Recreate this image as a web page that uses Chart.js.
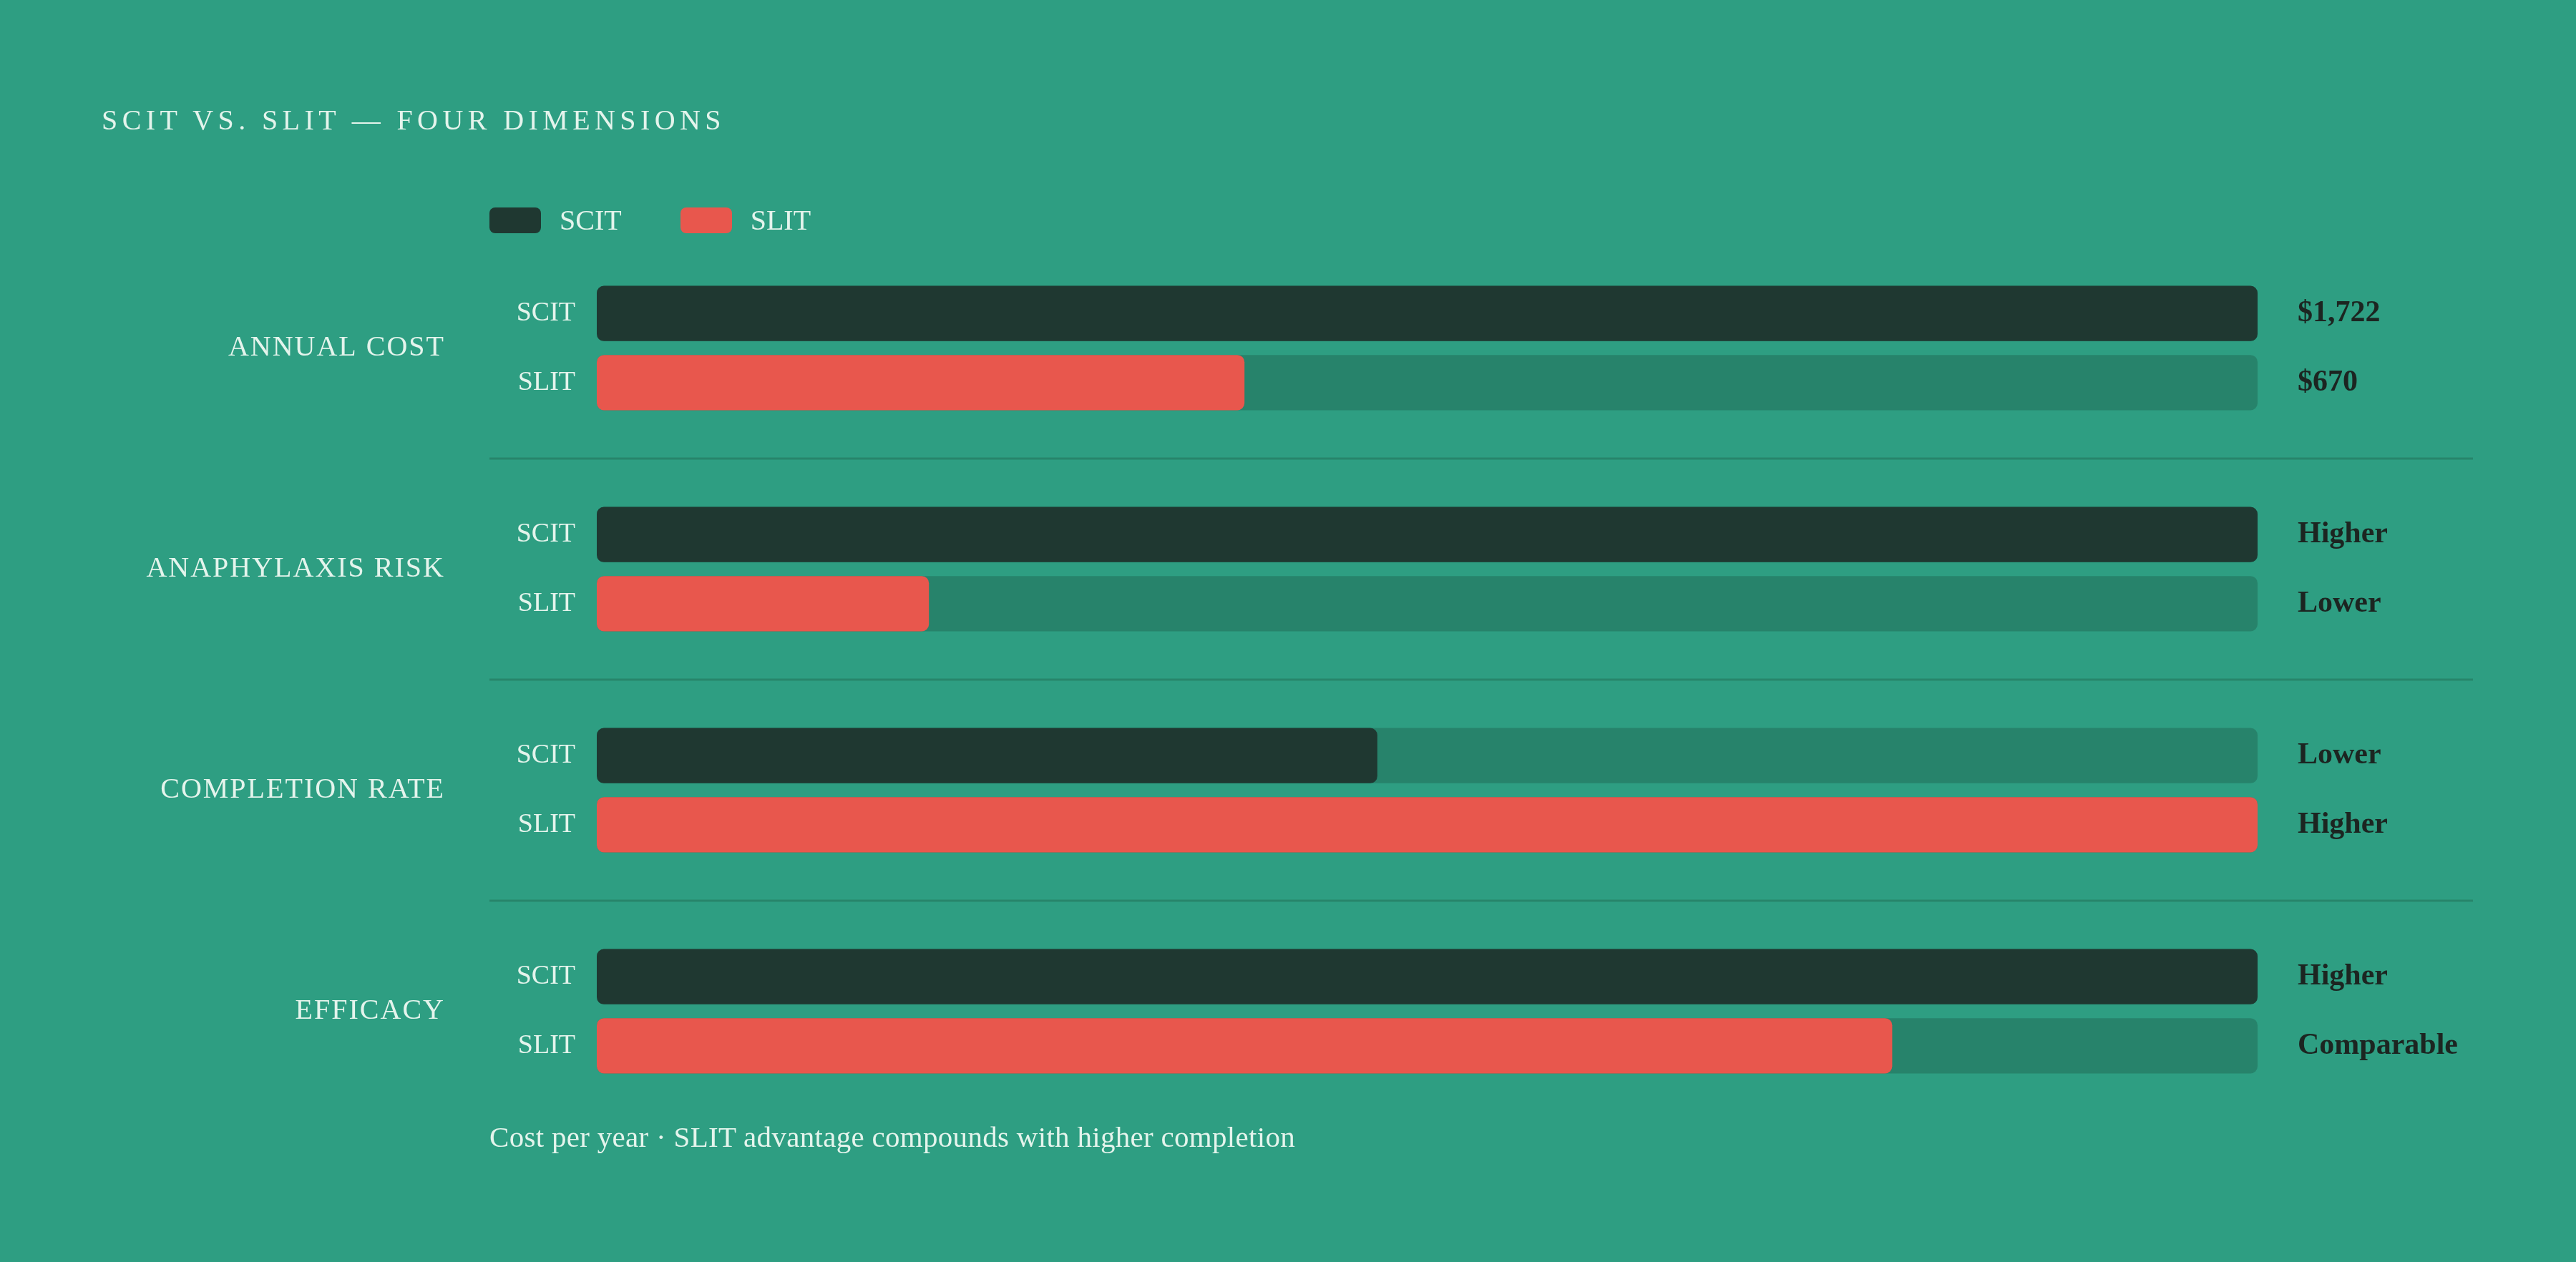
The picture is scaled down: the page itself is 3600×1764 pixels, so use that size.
<!DOCTYPE html>
<html>
<head>
<meta charset="utf-8">
<script src="https://cdn.jsdelivr.net/npm/chart.js@4"></script>
<style>
  html, body { margin: 0; padding: 0; background: #2e9e82; }
  #wrap { position: relative; width: 3600px; height: 1764px; overflow: hidden; }
  #chart-box { position: absolute; left: 0; top: 0; width: 3600px; height: 1764px; }
  .title { position: absolute; left: 142px; top: 144px; font-family: "Liberation Serif", serif;
           font-size: 40px; letter-spacing: 6.4px; color: #e4f4ec; white-space: nowrap; }
  .legend { position: absolute; left: 684px; top: 284px; display: flex; align-items: center;
            font-family: "Liberation Serif", serif; font-size: 40px; color: #e4f4ec; }
  .legend .sw { width: 72px; height: 36px; border-radius: 8px; margin-right: 26px; }
  .legend .item { display: flex; align-items: center; margin-right: 82px; }
  .footer { position: absolute; left: 684px; top: 1565px; font-family: "Liberation Serif", serif;
            font-size: 41px; letter-spacing: 0.3px; color: #e4f4ec; white-space: nowrap; }
</style>
</head>
<body>
<div id="wrap">
  <div id="chart-box"><canvas id="cmp-chart"></canvas></div>
  <div class="title">SCIT VS. SLIT — FOUR DIMENSIONS</div>
  <div class="legend">
    <div class="item"><div class="sw" style="background:#1f3831"></div>SCIT</div>
    <div class="item"><div class="sw" style="background:#e8574d"></div>SLIT</div>
  </div>
  <div class="footer">Cost per year · SLIT advantage compounds with higher completion</div>
</div>
<script>
// relative bar lengths (share of the larger one in each row)
const dimensions = ['ANNUAL COST', 'ANAPHYLAXIS RISK', 'COMPLETION RATE', 'EFFICACY'];
const scitScore = [100, 100, 47, 100];
const slitScore = [39, 20, 100, 78];
const trackScore = [100, 100, 100, 100];
const scitLabels = ['$1,722', 'Higher', 'Lower', 'Higher'];
const slitLabels = ['$670', 'Lower', 'Higher', 'Comparable'];

const SERIF = '"Liberation Serif", serif';
const LIGHT = '#e4f4ec';
const DARK_TEXT = '#1c2521';

// separators between groups + all the text next to the bars
const rowText = {
    id: 'rowText',
    beforeDatasetsDraw(chart) {
        const ctx = chart.ctx;
        const y = chart.scales.y;
        ctx.save();
        ctx.strokeStyle = '#27856b';
        ctx.lineWidth = 3;
        for (let i = 0; i < dimensions.length - 1; i++) {
            const yy = (y.getPixelForValue(i) + y.getPixelForValue(i + 1)) / 2;
            ctx.beginPath();
            ctx.moveTo(684, yy);
            ctx.lineTo(3456, yy);
            ctx.stroke();
        }
        ctx.restore();
    },
    afterDatasetsDraw(chart) {
        const ctx = chart.ctx;
        const y = chart.scales.y;
        const area = chart.chartArea;
        const scitMeta = chart.getDatasetMeta(1);
        const slitMeta = chart.getDatasetMeta(3);
        ctx.save();
        ctx.textBaseline = 'middle';
        dimensions.forEach((name, i) => {
            ctx.fillStyle = LIGHT;
            ctx.textAlign = 'right';
            ctx.font = '40px ' + SERIF;
            ctx.letterSpacing = '2px';
            ctx.fillText(name, 622, y.getPixelForValue(i));
            ctx.letterSpacing = '0px';
            ctx.font = '38px ' + SERIF;
            ctx.fillText('SCIT', 804, scitMeta.data[i].y);
            ctx.fillText('SLIT', 804, slitMeta.data[i].y);
            ctx.textAlign = 'left';
            ctx.fillStyle = DARK_TEXT;
            ctx.font = 'bold 42px ' + SERIF;
            ctx.fillText(scitLabels[i], area.right + 56, scitMeta.data[i].y);
            ctx.fillText(slitLabels[i], area.right + 56, slitMeta.data[i].y);
        });
        ctx.restore();
    }
};

const ctx = document.getElementById('cmp-chart').getContext('2d');
new Chart(ctx, {
    type: 'bar',
    data: {
        labels: dimensions,
        datasets: [
            { label: 'track', data: trackScore, stack: 'scit', backgroundColor: '#27836b', order: 2 },
            { label: 'SCIT', data: scitScore, stack: 'scit', backgroundColor: '#1f3831', order: 1 },
            { label: 'track', data: trackScore, stack: 'slit', backgroundColor: '#27836b', order: 2 },
            { label: 'SLIT', data: slitScore, stack: 'slit', backgroundColor: '#e8574d', order: 1 },
        ],
    },
    options: {
        indexAxis: 'y',
        responsive: true,
        maintainAspectRatio: false,
        animation: false,
        devicePixelRatio: 1,
        layout: { padding: { left: 834, right: 445, top: 332, bottom: 196 } },
        datasets: {
            bar: {
                categoryPercentage: 0.625,
                barPercentage: 0.8,
                borderRadius: 10,
                borderSkipped: false,
            }
        },
        scales: {
            x: { display: false, min: 0, max: 100, stacked: false },
            y: { display: false, stacked: true },
        },
        plugins: {
            legend: { display: false },
            tooltip: { enabled: false },
        },
    },
    plugins: [rowText],
});
</script>
</body>
</html>
